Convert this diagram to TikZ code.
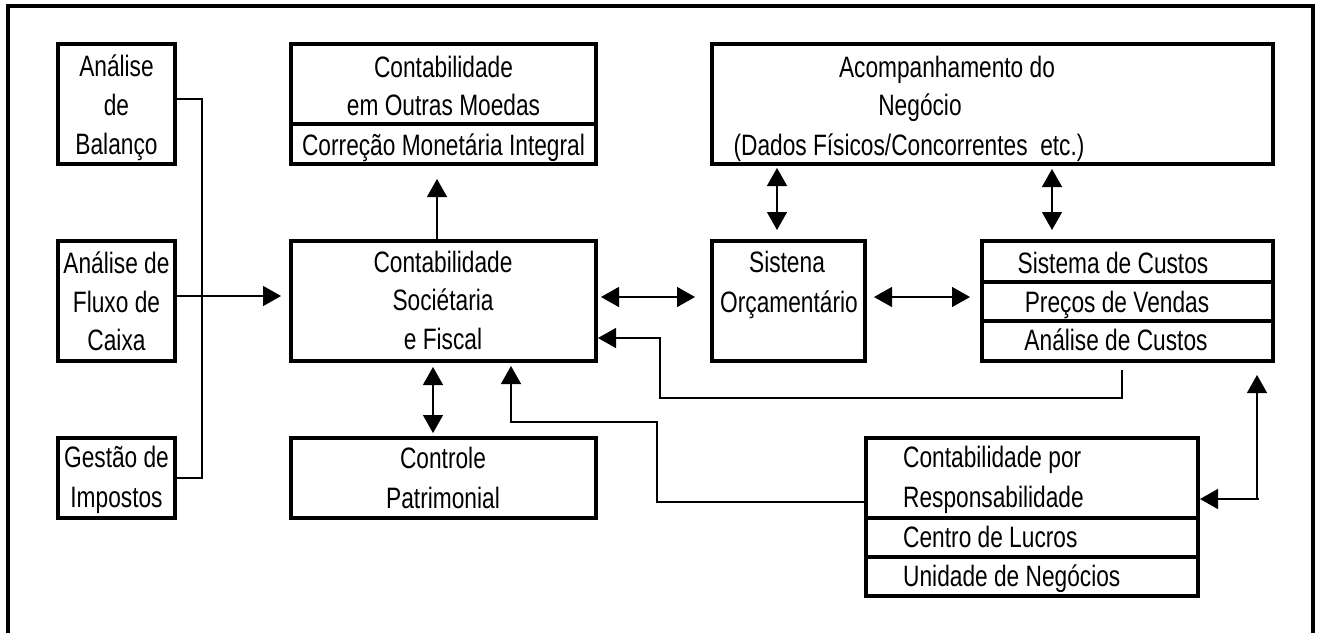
\documentclass[tikz,border=0pt]{standalone}
\usepackage{fontspec}
\setmainfont{Liberation Sans}[FakeStretch=0.77]
\usetikzlibrary{arrows.meta}
\begin{document}
\begin{tikzpicture}[x=1pt,y=-1pt,
  box/.style={draw, line width=4pt, inner sep=0pt},
  txt/.style={inner sep=0pt, anchor=base, font=\fontsize{29.5}{35}\selectfont},
  txtl/.style={txt, anchor=base west},
  conn/.style={line width=1.4pt},
  arr/.style={conn, -{Triangle[length=18pt,width=20pt]}},
  darr/.style={conn, {Triangle[length=18pt,width=20pt]}-{Triangle[length=18pt,width=20pt]}},
  frameline/.style={line width=4pt},
  divline/.style={line width=4pt}]
\useasboundingbox (0,0) rectangle (1322,632);
\draw[frameline] (8,640) -- (8,6) -- (1313,6) -- (1313,640);

% boxes
\node[box, minimum width=117pt, minimum height=120pt] (bal) at (116.5,104) {};
\node[box, minimum width=117pt, minimum height=120pt] (flux) at (116.5,301) {};
\node[box, minimum width=117pt, minimum height=80pt] (gest) at (116.5,478) {};
\node[box, minimum width=305pt, minimum height=120pt] (moe) at (443.5,104) {};
\node[box, minimum width=305pt, minimum height=120pt] (soc) at (443.5,301) {};
\node[box, minimum width=305pt, minimum height=80pt] (ctrl) at (443.5,478) {};
\node[box, minimum width=561pt, minimum height=120pt] (acomp) at (992.5,104) {};
\node[box, minimum width=153pt, minimum height=120pt] (sis) at (788.5,301) {};
\node[box, minimum width=291pt, minimum height=120pt] (cus) at (1127.5,301) {};
\node[box, minimum width=332pt, minimum height=158pt] (resp) at (1032,517) {};

% dividers
\draw[divline] (moe.west |- 0,124) -- (moe.east |- 0,124);
\draw[divline] (cus.west |- 0,282) -- (cus.east |- 0,282);
\draw[divline] (cus.west |- 0,321) -- (cus.east |- 0,321);
\draw[divline] (resp.west |- 0,518) -- (resp.east |- 0,518);
\draw[divline] (resp.west |- 0,557) -- (resp.east |- 0,557);

% texts
\node[txt] (t1) at (116.5,76) {Análise};
\node[txt] (t2) at (116.5,115) {de};
\node[txt] (t3) at (116.5,154) {Balanço};
\node[txt] (t4) at (116.5,273) {Análise de};
\node[txt] (t5) at (116.5,312) {Fluxo de};
\node[txt] (t6) at (116.5,350) {Caixa};
\node[txt] (t7) at (116.5,467) {Gestão de};
\node[txt] (t8) at (116.5,507) {Impostos};
\node[txt] (t9) at (443.5,77) {Contabilidade};
\node[txt] (t10) at (443.5,115) {em Outras Moedas};
\node[txt] (t11) at (443.5,155) {Correção Monetária Integral};
\node[txt] (t12) at (443,272) {Contabilidade};
\node[txt] (t13) at (443,310) {Sociétaria};
\node[txt] (t14) at (443,349) {e Fiscal};
\node[txt] (t15) at (443,468) {Controle};
\node[txt] (t16) at (443,508) {Patrimonial};
\node[txt] (t17) at (947,77) {Acompanhamento do};
\node[txt] (t18) at (920,115) {Negócio};
\node[txt] (t19) at (909,155) {(Dados Físicos/Concorrentes\ \ etc.)};
\node[txt] (t20) at (787,272) {Sistena};
\node[txt] (t21) at (789,312) {Orçamentário};
\node[txt] (t22) at (1113,273) {Sistema de Custos};
\node[txt] (t23) at (1117,312) {Preços de Vendas};
\node[txt] (t24) at (1116,350) {Análise de Custos};
\node[txtl] (t25) at (903,467) {Contabilidade por};
\node[txtl] (t26) at (903,507) {Responsabilidade};
\node[txtl] (t27) at (903,547) {Centro de Lucros};
\node[txtl] (t28) at (903,586) {Unidade de Negócios};

% connectors
\draw[conn] ([yshift=5pt]bal.east) -- ++(25,0) |- (gest.east);
\draw[arr, shorten >=8pt] ([yshift=5pt]flux.east) -- ([yshift=5pt]soc.west);
\draw[arr, shorten >=13pt] (soc.north -| 437,0) -- (moe.south -| 437,0);
\draw[darr, shorten <=4pt, shorten >=3pt] (soc.south -| 433,0) -- (ctrl.north -| 433,0);
\draw[darr, shorten <=3pt, shorten >=15pt] ([yshift=4pt]soc.east) -- ([yshift=4pt]sis.west);
\draw[darr, shorten <=7pt, shorten >=10pt] ([yshift=4pt]sis.east) -- ([yshift=4pt]cus.west);
\draw[darr, shorten <=2pt, shorten >=9pt] (acomp.south -| 777,0) -- (sis.north -| 777,0);
\draw[darr, shorten <=3pt, shorten >=9pt] (acomp.south -| 1052,0) -- (cus.north -| 1052,0);
\draw[arr, shorten <=7pt] (cus.south -| 1122,0) -- (1122,398) -- (660,398) -- (660,338) -- ([yshift=-37pt]soc.east);
\draw[arr, shorten >=3pt] ([yshift=15pt]resp.west) -| (657,422) -| (soc.south -| 511,0);
\coordinate (rc) at (1257,499);
\draw[arr, shorten >=12pt] (rc) -- (cus.south -| rc);
\draw[arr] ([xshift=2pt]rc) -- (resp.east |- rc);
\end{tikzpicture}
\end{document}
